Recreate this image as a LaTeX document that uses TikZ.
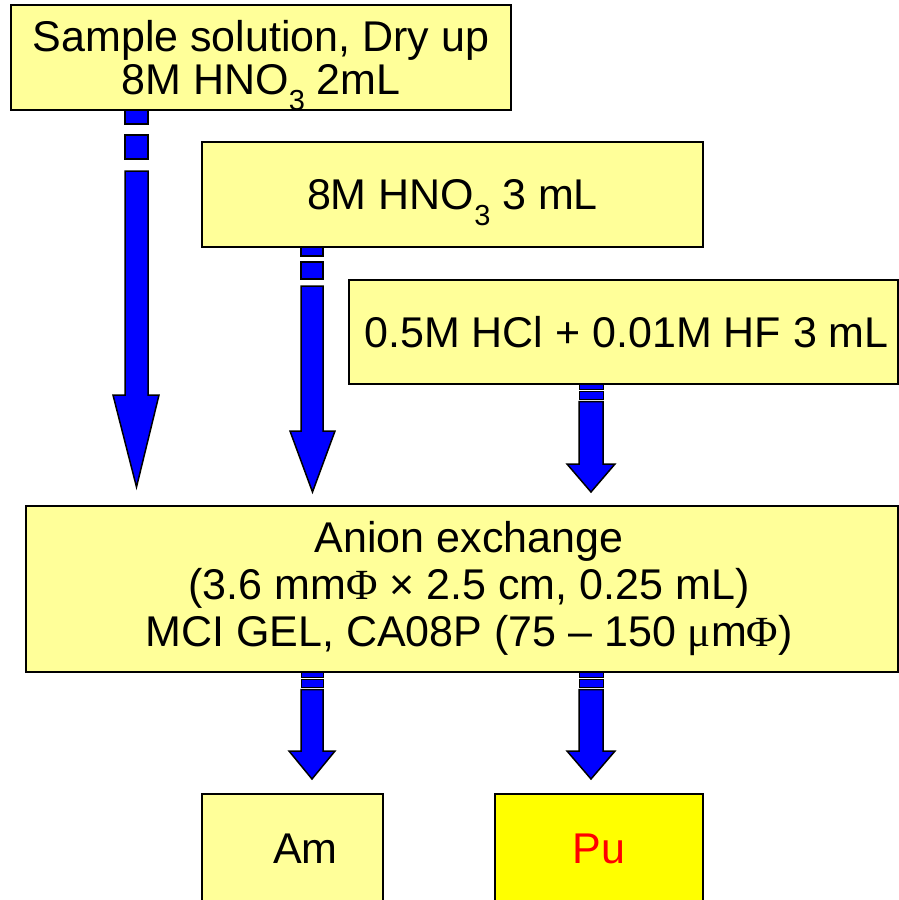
\documentclass[tikz,border=0pt]{standalone}
\usepackage{fontspec}
\setmainfont{Liberation Sans}
\newfontfamily\symfont{Liberation Serif}
\definecolor{boxyellow}{HTML}{FFFF99}
\definecolor{puyellow}{HTML}{FFFF00}
\definecolor{arrblue}{HTML}{0000FF}
\definecolor{pured}{HTML}{FF0000}
\newcommand\subsc[1]{\smash{\raisebox{-16pt}{\fontsize{29}{29}\selectfont #1}}}
\begin{document}
\begin{tikzpicture}[x=1pt,y=-1pt,
  box/.style={draw=black, line width=2pt, fill=boxyellow, inner sep=0pt, align=center,
    font=\fontsize{43}{42.5}\selectfont},
  arr/.style={draw=black, line width=1.5pt, fill=arrblue, line join=miter},
  thinarr/.style={arr, line width=1pt}]
\useasboundingbox (0,0) rectangle (899,900);
\clip (0,0) rectangle (899,900);

% striped arrows (shapes)
\draw[arr] (125,110) rectangle (148,124);
\draw[arr] (125,135) rectangle (148,159);
\draw[arr] (125,171) -- (125,395) -- (113,395) -- (136.5,487) -- (159,395) -- (148,395) -- (148,171) -- cycle;

\draw[arr] (301,247) rectangle (323,256);
\draw[arr] (301,262) rectangle (323,279);
\draw[arr] (301,286) -- (301,431) -- (290,431) -- (312.5,492) -- (335,431) -- (323,431) -- (323,286) -- cycle;

\draw[thinarr] (579,384) rectangle (603,389);
\draw[thinarr] (579,391.5) rectangle (603,399);
\draw[arr] (579,401.5) -- (579,464) -- (567,464) -- (591,492) -- (615,464) -- (603,464) -- (603,401.5) -- cycle;

\draw[thinarr] (301,672) rectangle (323,677);
\draw[thinarr] (301,679.5) rectangle (323,687);
\draw[arr] (301,689.5) -- (301,751) -- (289,751) -- (312,779) -- (335,751) -- (323,751) -- (323,689.5) -- cycle;

\draw[thinarr] (579,672) rectangle (603,677);
\draw[thinarr] (579,679.5) rectangle (603,687);
\draw[arr] (579,689.5) -- (579,751) -- (567,751) -- (591,779) -- (615,751) -- (603,751) -- (603,689.5) -- cycle;

% boxes
\node[box, minimum width=500pt, minimum height=105pt] (sample) at (261,57.5)
  {Sample solution, Dry up\\8M HNO\subsc{3} 2mL};
\node[box, minimum width=501pt, minimum height=105pt] (hno) at (452.5,194.5)
  {8M HNO\subsc{3} 3 mL};
\node[box, minimum width=549pt, minimum height=104pt] (hcl) at (623.5,332)
  {\hspace*{6pt}0.5M HCl + 0.01M HF 3 mL};
\node[box, minimum width=872pt, minimum height=166pt, font=\fontsize{43}{47}\selectfont] (anion) at (462,589)
  {\hspace*{14pt}Anion exchange\\\hspace*{14pt}(3.6 mm{\symfont Φ} × 2.5 cm, 0.25 mL)\\\hspace*{14pt}MCI GEL, CA08P (75 – 150 {\symfont μ}m{\symfont Φ})};
\node[box, minimum width=181pt, minimum height=109pt] (am) at (292.5,848.5) {\hspace*{26pt}Am};
\node[box, fill=puyellow, text=pured, minimum width=208pt, minimum height=109pt] (pu) at (599,848.5) {Pu};
\end{tikzpicture}
\end{document}
